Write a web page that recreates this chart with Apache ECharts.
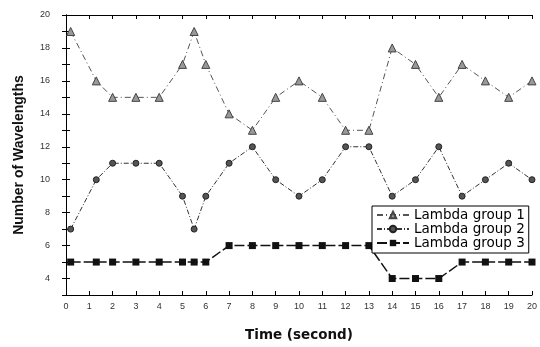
<!DOCTYPE html>
<html>
<head>
<meta charset="utf-8">
<script src="https://cdn.jsdelivr.net/npm/echarts@6/dist/echarts.min.js"></script>
<style>
    html, body {margin: 0; padding: 0; background: #fff;}
    #main {width: 540px; height: 347px;}
</style>
</head>
<body>
<div id="main"></div>
<script>
// time points (seconds)
var times = [0.2, 1.3, 2, 3, 4, 5, 5.5, 6, 7, 8, 9, 10, 11, 12, 13, 14, 15, 16, 17, 18, 19, 20];
var group1 = [19, 16, 15, 15, 15, 17, 19, 17, 14, 13, 15, 16, 15, 13, 13, 18, 17, 15, 17, 16, 15, 16];
var group2 = [7, 10, 11, 11, 11, 9, 7, 9, 11, 12, 10, 9, 10, 12, 12, 9, 10, 12, 9, 10, 11, 10];
var group3 = [5, 5, 5, 5, 5, 5, 5, 5, 6, 6, 6, 6, 6, 6, 6, 4, 4, 4, 5, 5, 5, 5];
var seriesNames = ["Lambda group 1", "Lambda group 2", "Lambda group 3"];

function pairs(ys) {
    var out = [];
    for (var i = 0; i < times.length; i++) {
        out.push([times[i], ys[i]]);
    }
    return out;
}

var tickLabel = {fontSize: 9, color: "#333", fontFamily: "Liberation Sans", margin: 7};

var option = {
    animation: false,
    backgroundColor: "#fff",
    grid: {left: 66, right: 8, top: 15, bottom: 45},
    legend: {
        orient: "vertical",
        left: 372,
        top: 206,
        padding: [2, 4, 3, 4],
        itemGap: 0,
        itemWidth: 32,
        itemHeight: 8,
        borderColor: "#000",
        borderWidth: 1,
        backgroundColor: "#fff",
        textStyle: {fontSize: 13.5, lineHeight: 13, color: "#000", fontFamily: "DejaVu Sans"},
        data: seriesNames
    },
    xAxis: [
        {
            type: "value",
            min: 0,
            max: 20,
            interval: 1,
            name: "Time (second)",
            nameLocation: "middle",
            nameGap: 33,
            nameTextStyle: {fontSize: 13.5, fontWeight: "bold", color: "#111", fontFamily: "DejaVu Sans"},
            splitLine: {show: false},
            axisLine: {lineStyle: {color: "#000", width: 1}},
            axisTick: {inside: true, length: 4, lineStyle: {color: "#000"}},
            axisLabel: tickLabel
        },
        {
            type: "value",
            position: "top",
            min: 0,
            max: 20,
            interval: 1,
            splitLine: {show: false},
            axisLine: {lineStyle: {color: "#000", width: 1}},
            axisTick: {inside: true, length: 4, lineStyle: {color: "#000"}},
            axisLabel: {show: false}
        }
    ],
    yAxis: [
        {
            type: "value",
            min: 3,
            max: 20,
            interval: 1,
            name: "Number of Wavelengths",
            nameLocation: "middle",
            nameGap: 40,
            nameTextStyle: {fontSize: 14, fontWeight: "bold", color: "#111", fontFamily: "Liberation Sans", padding: [0, 0, 0, 0]},
            splitLine: {show: false},
            axisLine: {show: true, lineStyle: {color: "#000", width: 1}},
            axisTick: {inside: true, length: 4, lineStyle: {color: "#000"}},
            axisLabel: {
                fontSize: 9, color: "#333", fontFamily: "Liberation Sans", margin: 16,
                formatter: function (v) { return v % 2 === 0 ? String(v) : ""; }
            }
        },
        {
            type: "value",
            position: "right",
            min: 3,
            max: 20,
            interval: 1,
            splitLine: {show: false},
            axisLine: {show: true, lineStyle: {color: "#000", width: 1}},
            axisTick: {inside: true, length: 4, lineStyle: {color: "#000"}},
            axisLabel: {show: false}
        }
    ],
    series: [
        {
            name: seriesNames[0],
            type: "line",
            data: pairs(group1),
            symbol: "triangle",
            symbolSize: 8,
            itemStyle: {color: "#999", borderColor: "#444", borderWidth: 1},
            lineStyle: {color: "#555", width: 1, type: [6, 3, 1, 3]}
        },
        {
            name: seriesNames[1],
            type: "line",
            data: pairs(group2),
            symbol: "circle",
            symbolSize: 6,
            itemStyle: {color: "#555", borderColor: "#222", borderWidth: 1},
            lineStyle: {color: "#333", width: 1, type: [5, 2, 1, 2]}
        },
        {
            name: seriesNames[2],
            type: "line",
            data: pairs(group3),
            symbol: "rect",
            symbolSize: 7,
            itemStyle: {color: "#111", borderColor: "#000", borderWidth: 0},
            lineStyle: {color: "#111", width: 1.5, type: [10, 3]}
        }
    ]
};

var myChart = echarts.init(document.getElementById("main"), null, {renderer: "canvas"});
myChart.setOption(option);
</script>
</body>
</html>
